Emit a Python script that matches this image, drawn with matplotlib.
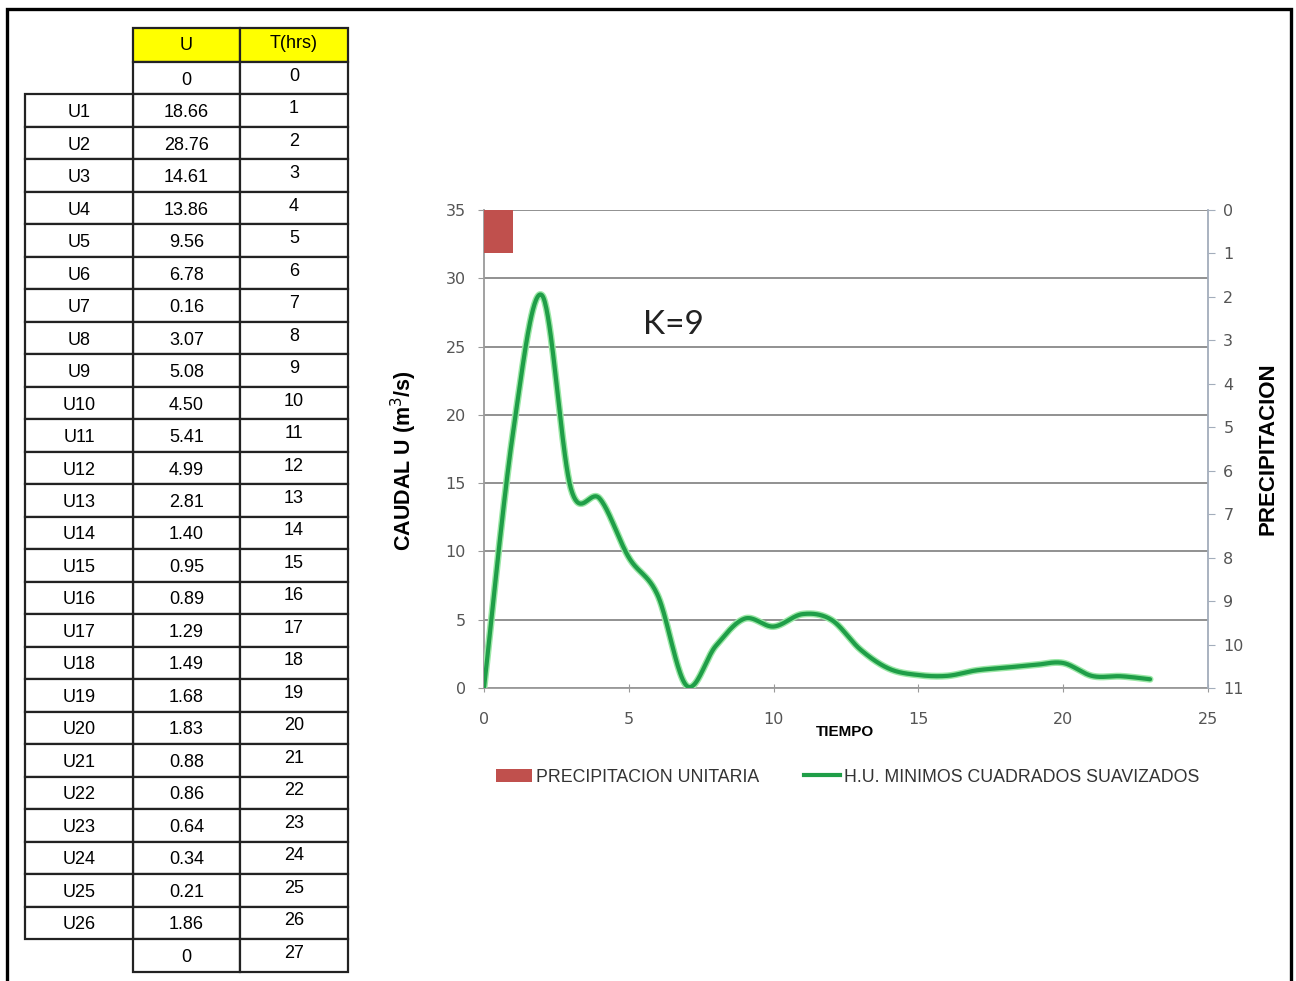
import numpy as np
import matplotlib
matplotlib.use("Agg")
import matplotlib.pyplot as plt
from matplotlib.patches import Rectangle, Patch
from matplotlib.lines import Line2D

# ---- data -----------------------------------------------------------------
row_labels = [""] + [f"U{i}" for i in range(1, 27)] + [""]
u_values = [0, 18.66, 28.76, 14.61, 13.86, 9.56, 6.78, 0.16, 3.07, 5.08, 4.50,
            5.41, 4.99, 2.81, 1.40, 0.95, 0.89, 1.29, 1.49, 1.68, 1.83, 0.88,
            0.86, 0.64, 0.34, 0.21, 1.86, 0]
t_hours = list(range(0, 28))
u_text = ["0"] + [f"{v:.2f}" for v in u_values[1:-1]] + ["0"]

hydro_last_hour = 23          # smoothed hydrograph drawn up to this hour
rain_start = [0]
rain_depth = [1]
rain_duration = 1

x_ticks = [0, 5, 10, 15, 20, 25]
y_ticks = [0, 5, 10, 15, 20, 25, 30, 35]
p_ticks = list(range(0, 12))

W, H = 1296, 981
SANS = ["Liberation Sans", "DejaVu Sans"]
RED = "#C0504D"
GREEN = "#1f9e48"


def smooth_curve(x, y, n=40):
    """Catmull-Rom style Bezier smoothing through every point."""
    pts = np.column_stack([x, y]).astype(float)
    padded = np.vstack([pts[0], pts, pts[-1]])
    out = []
    tt = np.linspace(0, 1, n)[:, None]
    for i in range(1, len(padded) - 2):
        p0, p1, p2, p3 = padded[i - 1], padded[i], padded[i + 1], padded[i + 2]
        b1 = p1 + (p2 - p0) / 6.0
        b2 = p2 - (p3 - p1) / 6.0
        seg = ((1 - tt) ** 3) * p1 + 3 * ((1 - tt) ** 2) * tt * b1 \
            + 3 * (1 - tt) * tt ** 2 * b2 + tt ** 3 * p2
        out.append(seg if i == 1 else seg[1:])
    c = np.vstack(out)
    return c[:, 0], c[:, 1]


fig = plt.figure(figsize=(W / 100, H / 100), dpi=100)
fig.patch.set_facecolor("white")

# ---- pixel-space layer for the table and the outer frame --------------------
base = fig.add_axes([0, 0, 1, 1])
base.set_xlim(0, W)
base.set_ylim(H, 0)
base.axis("off")

# outer frame (open at the bottom)
base.plot([7, 7, 1291, 1291], [H + 5, 9, 9, H + 5], color="black", lw=2.4,
          solid_joinstyle="miter")

col_x = [25, 133, 240, 348]
top = 28
row_h = (970 - 28) / 29.0
n_rows = len(u_text)
grid_col = "#222222"
tfs = 13

# header
for c in (1, 2):
    base.add_patch(Rectangle((col_x[c], top), col_x[c + 1] - col_x[c], row_h + 1.5,
                             facecolor="#FFFF00", edgecolor=grid_col, lw=1.6))
base.text((col_x[1] + col_x[2]) / 2, top + row_h / 2 + 1, "U", ha="center",
          va="center", fontsize=tfs, family=SANS)
base.text((col_x[2] + col_x[3]) / 2, top + row_h / 2 - 1, "T(hrs)", ha="center",
          va="center", fontsize=tfs, family=SANS)

for r in range(n_rows):
    y0 = top + row_h * (r + 1) + 1.5
    for c in (1, 2):
        base.add_patch(Rectangle((col_x[c], y0), col_x[c + 1] - col_x[c], row_h,
                                 facecolor="white", edgecolor=grid_col, lw=1.6))
    if row_labels[r]:
        base.add_patch(Rectangle((col_x[0], y0), col_x[1] - col_x[0], row_h,
                                 facecolor="white", edgecolor=grid_col, lw=1.6))
        base.text((col_x[0] + col_x[1]) / 2, y0 + row_h / 2 + 2, row_labels[r],
                  ha="center", va="center", fontsize=tfs, family=SANS)
    base.text((col_x[1] + col_x[2]) / 2, y0 + row_h / 2 + 2, u_text[r],
              ha="center", va="center", fontsize=tfs, family=SANS)
    base.text((col_x[2] + col_x[3]) / 2, y0 + row_h / 2 - 2, str(t_hours[r]),
              ha="center", va="center", fontsize=tfs, family=SANS)

# ---- hydrograph chart --------------------------------------------------------
x0, x1, y_top, y_bot = 484, 1208, 210, 688
ax = fig.add_axes([x0 / W, 1 - y_bot / H, (x1 - x0) / W, (y_bot - y_top) / H])
ax.set_xlim(0, 25)
ax.set_ylim(0, 35)
ax.set_xticks(x_ticks)
ax.set_yticks(y_ticks)
ax.yaxis.grid(True, color="#888888", lw=1.3)
ax.set_axisbelow(True)
for s in ("top", "right"):
    ax.spines[s].set_visible(False)
for s in ("left", "bottom"):
    ax.spines[s].set_color("#9a9a9a")
    ax.spines[s].set_linewidth(1.3)
ax.tick_params(axis="x", direction="inout", length=6, color="#9a9a9a",
               labelsize=11.5, labelcolor="#555555", pad=14)
ax.tick_params(axis="y", direction="out", length=4, color="#9a9a9a",
               labelsize=11.5, labelcolor="#555555", pad=9)

hx, hy = smooth_curve(t_hours[:hydro_last_hour + 1], u_values[:hydro_last_hour + 1])
ax.plot(hx, hy, color="#9be7a6", lw=5.0, solid_capstyle="round", zorder=3)
ax.plot(hx, hy, color=GREEN, lw=3.0, solid_capstyle="round", zorder=4)

ax.set_ylabel("CAUDAL U (m$^3$/s)", fontsize=15.5, fontweight="bold", family=SANS)
ax.yaxis.set_label_coords(-0.09, 0.475)
ax.set_xlabel("TIEMPO", fontsize=11, fontweight="bold", family=SANS)
ax.xaxis.set_label_coords(0.4986, -0.078)

ax.text(5.5, 26.6, "K=9", fontsize=24, va="center", ha="left",
        family=["Lato", "DejaVu Sans"], color="#222222")

# precipitation on an inverted secondary axis
ax2 = ax.twinx()
ax2.set_ylim(11, 0)
ax2.set_yticks(p_ticks)
ax2.bar(rain_start, rain_depth, width=rain_duration, align="edge", color=RED,
        zorder=2)
for s in ("top", "left", "bottom"):
    ax2.spines[s].set_visible(False)
ax2.spines["right"].set_color("#a3adbb")
ax2.spines["right"].set_linewidth(1.3)
ax2.tick_params(axis="y", direction="out", length=5, color="#a3adbb",
                labelsize=11.5, labelcolor="#555555", pad=6)
ax2.set_ylabel("PRECIPITACION", fontsize=16, fontweight="bold", family=SANS)
ax2.yaxis.set_label_coords(1.068, 0.5)

handles = [Patch(facecolor=RED, edgecolor="none"),
           Line2D([], [], color=GREEN, lw=3)]
labels = ["PRECIPITACION UNITARIA", "H.U. MINIMOS CUADRADOS SUAVIZADOS"]
fig.legend(handles, labels, loc="center", bbox_to_anchor=(848 / W, 1 - 777 / H),
           ncol=2, frameon=False, prop={"family": SANS, "size": 12.8},
           handlelength=2.0, handleheight=0.75, handletextpad=0.25,
           columnspacing=2.5, labelcolor="#333333")

fig.savefig("out.png", dpi=100, facecolor="white")
